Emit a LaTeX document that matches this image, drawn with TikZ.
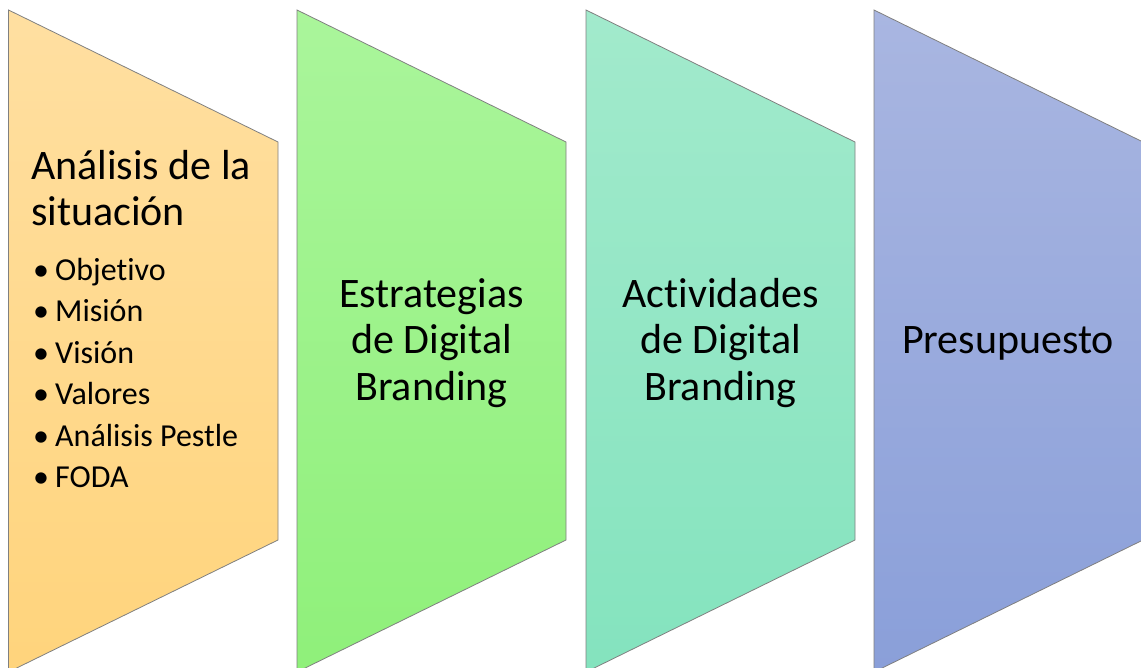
\documentclass[tikz,border=0pt]{standalone}
\usepackage{fontspec}
\setmainfont{Carlito}[Ligatures={NoCommon,NoContextual,NoRare}, Contextuals=NoAlternate]
\usepackage{tikz}
\usetikzlibrary{positioning}
\definecolor{sitlight}{HTML}{FFDFA1}
\definecolor{sitdark}{HTML}{FFD47C}
\definecolor{stratlight}{HTML}{AAF59B}
\definecolor{stratdark}{HTML}{8FF07A}
\definecolor{actlight}{HTML}{A2EACC}
\definecolor{actdark}{HTML}{84E3BE}
\definecolor{budgetlight}{HTML}{A9B6E1}
\definecolor{budgetdark}{HTML}{8A9FD9}
\newcommand{\stageitem}{\makebox[22pt][l]{\textbullet}}

\begin{document}
\begin{tikzpicture}[x=1pt, y=-1pt, font=\fontsize{42}{46.5}\selectfont]
    \tikzstyle{stage} = [draw=black!50, line width=0.8pt]
    \tikzstyle{title} = [align=center, inner sep=0pt]
    \tikzstyle{bullets} = [align=left, inner sep=0pt, font=\fontsize{32}{41.4}\selectfont]

    \clip (0,0) rectangle (1141,668);
    \fill[white] (0,0) rectangle (1141,668);

    \path[stage, top color=sitlight, bottom color=sitdark]
      (8.5,10) -- (278,142) -- (278,540) -- (8.5,672) -- cycle;
    \path[stage, top color=stratlight, bottom color=stratdark]
      (297,10) -- (566,142) -- (566,540) -- (297,672) -- cycle;
    \path[stage, top color=actlight, bottom color=actdark]
      (586,10) -- (855,142) -- (855,540) -- (586,672) -- cycle;
    \path[stage, top color=budgetlight, bottom color=budgetdark]
      (874,10) -- (1143,142) -- (1143,540) -- (874,672) -- cycle;

    \node (sittitle) [anchor=north west, align=left, inner sep=0pt] at (31,150)
      {Análisis de la\\situación};
    \node (sitlist) [bullets, anchor=north west] at (33,258)
      {\stageitem Objetivo\\\stageitem Misión\\\stageitem Visión\\\stageitem Valores\\
       \stageitem Análisis Pestle\\\stageitem FODA};

    \node (strategies) [title] at (431.5,343) {Estrategias\\de Digital\\Branding};
    \node (activities) [title] at (720.5,343) {Actividades\\de Digital\\Branding};
    \node (budget) [title] at (1008,343) {Presupuesto};
\end{tikzpicture}
\end{document}
